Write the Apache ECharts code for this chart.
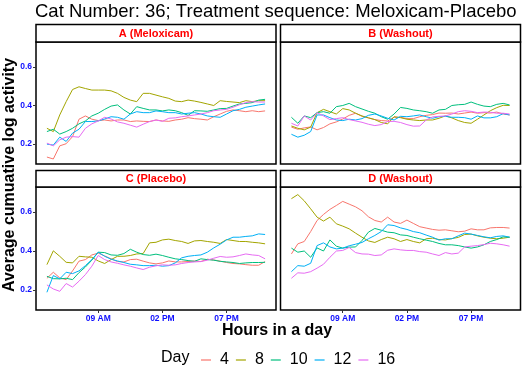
<!DOCTYPE html>
<html><head><meta charset="utf-8">
<script src="https://cdn.jsdelivr.net/npm/echarts@6/dist/echarts.min.js"></script>
<style>html,body{margin:0;padding:0;background:#fff}#c{width:526px;height:372px}</style>
</head><body><div id="c"></div>
<script>
// ---- data ----
const hours = [5,5.5,6,6.5,7,7.5,8,8.5,9,9.5,10,10.5,11,11.5,12,12.5,13,13.5,14,14.5,15,15.5,16,16.5,17,17.5,18,18.5,19,19.5,20,20.5,21,21.5,22];
const days = ['4','8','10','12','16'];
const panelTitles = ['A (Meloxicam)','B (Washout)','C (Placebo)','D (Washout)'];
const xTickValues = [9,14,19];
const xTickLabels = ['09 AM','02 PM','07 PM'];
const yTickValues = [0.2,0.4,0.6];

const A_day4  = [0.133,0.123,0.191,0.202,0.239,0.329,0.346,0.329,0.322,0.325,0.320,0.325,0.325,0.317,0.320,0.318,0.317,0.325,0.320,0.318,0.325,0.329,0.337,0.332,0.329,0.325,0.342,0.356,0.370,0.377,0.373,0.368,0.373,0.368,0.372];
const A_day8  = [0.282,0.265,0.351,0.420,0.483,0.497,0.488,0.480,0.480,0.480,0.476,0.463,0.442,0.428,0.420,0.463,0.463,0.454,0.445,0.437,0.423,0.420,0.428,0.423,0.416,0.408,0.400,0.425,0.421,0.418,0.415,0.425,0.420,0.425,0.425];
const A_day10 = [0.265,0.277,0.252,0.265,0.282,0.305,0.320,0.346,0.360,0.380,0.397,0.403,0.377,0.356,0.394,0.385,0.377,0.377,0.372,0.377,0.373,0.363,0.349,0.373,0.372,0.370,0.377,0.384,0.385,0.397,0.408,0.411,0.415,0.428,0.432];
const A_day12 = [0.200,0.195,0.236,0.214,0.257,0.277,0.317,0.317,0.320,0.330,0.342,0.339,0.329,0.356,0.368,0.363,0.363,0.372,0.368,0.363,0.363,0.356,0.360,0.363,0.356,0.346,0.342,0.339,0.356,0.373,0.380,0.391,0.397,0.403,0.408];
const A_day16 = [0.205,0.191,0.222,0.236,0.239,0.236,0.282,0.305,0.320,0.339,0.330,0.315,0.308,0.298,0.288,0.303,0.317,0.325,0.318,0.334,0.336,0.342,0.346,0.351,0.356,0.363,0.373,0.377,0.380,0.391,0.404,0.415,0.420,0.418,0.418];

const B_day4  = [0.288,0.277,0.284,0.289,0.274,0.286,0.305,0.315,0.330,0.349,0.360,0.344,0.336,0.327,0.322,0.320,0.339,0.339,0.332,0.332,0.342,0.349,0.353,0.361,0.360,0.361,0.356,0.361,0.366,0.360,0.363,0.361,0.366,0.356,0.351];
const B_day8  = [0.294,0.282,0.274,0.288,0.363,0.380,0.368,0.356,0.384,0.377,0.360,0.346,0.336,0.327,0.312,0.305,0.342,0.337,0.329,0.325,0.322,0.325,0.325,0.334,0.346,0.336,0.322,0.312,0.308,0.329,0.351,0.373,0.389,0.401,0.400];
const B_day10 = [0.339,0.308,0.346,0.337,0.363,0.368,0.360,0.394,0.400,0.411,0.394,0.382,0.370,0.360,0.342,0.329,0.356,0.390,0.385,0.377,0.373,0.368,0.360,0.377,0.380,0.400,0.404,0.406,0.418,0.406,0.397,0.394,0.406,0.411,0.403];
const B_day12 = [0.251,0.236,0.246,0.265,0.351,0.351,0.337,0.325,0.322,0.329,0.325,0.332,0.349,0.356,0.346,0.334,0.325,0.344,0.342,0.346,0.351,0.342,0.334,0.342,0.344,0.339,0.339,0.337,0.329,0.346,0.336,0.336,0.342,0.358,0.351];
const B_day16 = [0.308,0.294,0.346,0.325,0.363,0.346,0.327,0.332,0.337,0.327,0.320,0.313,0.303,0.296,0.301,0.317,0.318,0.312,0.301,0.293,0.294,0.325,0.341,0.344,0.346,0.356,0.368,0.373,0.370,0.363,0.366,0.365,0.360,0.360,0.356];

const C_day4  = [0.260,0.291,0.262,0.253,0.298,0.348,0.356,0.380,0.389,0.375,0.360,0.346,0.344,0.356,0.358,0.348,0.339,0.334,0.339,0.349,0.344,0.344,0.346,0.349,0.346,0.358,0.354,0.348,0.341,0.336,0.334,0.330,0.327,0.327,0.346];
const C_day8  = [0.330,0.401,0.373,0.342,0.339,0.373,0.370,0.368,0.349,0.336,0.356,0.373,0.373,0.377,0.385,0.387,0.442,0.445,0.457,0.461,0.454,0.449,0.439,0.452,0.454,0.449,0.445,0.439,0.459,0.454,0.449,0.449,0.445,0.442,0.437];
const C_day10 = [0.270,0.258,0.257,0.260,0.253,0.289,0.318,0.353,0.394,0.392,0.380,0.378,0.387,0.409,0.394,0.382,0.378,0.384,0.377,0.368,0.360,0.356,0.351,0.347,0.360,0.356,0.353,0.347,0.344,0.341,0.336,0.339,0.341,0.341,0.342];
const C_day12 = [0.188,0.274,0.257,0.291,0.284,0.298,0.325,0.356,0.394,0.373,0.358,0.349,0.341,0.332,0.329,0.325,0.325,0.327,0.322,0.325,0.339,0.365,0.373,0.377,0.380,0.394,0.416,0.435,0.457,0.471,0.471,0.475,0.478,0.488,0.485];
const C_day16 = [0.226,0.205,0.193,0.233,0.215,0.245,0.279,0.322,0.377,0.356,0.344,0.337,0.329,0.322,0.313,0.305,0.317,0.324,0.329,0.327,0.329,0.336,0.341,0.344,0.346,0.353,0.363,0.372,0.368,0.370,0.377,0.385,0.380,0.377,0.360];

const D_day4  = [0.385,0.437,0.449,0.500,0.557,0.588,0.614,0.634,0.655,0.641,0.627,0.607,0.576,0.557,0.549,0.574,0.549,0.542,0.559,0.542,0.525,0.518,0.511,0.507,0.509,0.504,0.499,0.502,0.514,0.509,0.509,0.519,0.521,0.521,0.518];
const D_day8  = [0.669,0.690,0.658,0.617,0.574,0.554,0.574,0.540,0.528,0.514,0.492,0.471,0.452,0.444,0.459,0.471,0.463,0.449,0.459,0.449,0.442,0.463,0.466,0.459,0.457,0.464,0.470,0.485,0.487,0.478,0.471,0.466,0.463,0.466,0.471];
const D_day10 = [0.415,0.394,0.400,0.368,0.416,0.400,0.457,0.425,0.415,0.420,0.421,0.454,0.497,0.516,0.507,0.497,0.494,0.483,0.480,0.471,0.463,0.456,0.449,0.439,0.432,0.432,0.428,0.421,0.415,0.421,0.432,0.449,0.459,0.473,0.471];
const D_day12 = [0.294,0.325,0.322,0.337,0.428,0.442,0.421,0.411,0.415,0.427,0.435,0.444,0.463,0.480,0.500,0.535,0.531,0.519,0.511,0.500,0.494,0.482,0.471,0.456,0.463,0.463,0.478,0.492,0.487,0.480,0.473,0.468,0.475,0.478,0.471];
const D_day16 = [0.260,0.288,0.286,0.294,0.312,0.332,0.368,0.400,0.403,0.418,0.392,0.385,0.384,0.377,0.380,0.404,0.411,0.406,0.403,0.403,0.397,0.394,0.385,0.377,0.392,0.385,0.389,0.421,0.425,0.428,0.433,0.440,0.437,0.432,0.425];

const panels = [
  [A_day4, A_day8, A_day10, A_day12, A_day16],
  [B_day4, B_day8, B_day10, B_day12, B_day16],
  [C_day4, C_day8, C_day10, C_day12, C_day16],
  [D_day4, D_day8, D_day10, D_day12, D_day16]
];

// ---- style / layout ----
const colors = ['#F8766D','#A3A500','#00BF7D','#00B0F6','#E76BF3'];
const FONT = 'Liberation Sans, Arial, Helvetica, sans-serif';
const gridPos = [
  {left:36, top:42, width:240, height:122},
  {left:280.5, top:42, width:240, height:122},
  {left:36, top:187, width:240, height:123},
  {left:280.5, top:187, width:240, height:123}
];
const stripPos = [
  {y:24.5, h:17.5}, {y:24.5, h:17.5}, {y:170.5, h:16.5}, {y:170.5, h:16.5}
];

const grids = gridPos.map(g => ({left:g.left, top:g.top, width:g.width, height:g.height,
  show:true, borderColor:'#000', borderWidth:1.5, backgroundColor:'#fff', containLabel:false}));

const xAxes = gridPos.map((g,i) => ({
  type:'value', gridIndex:i, min:4.15, max:22.85,
  axisLine:{show:false}, splitLine:{show:false},
  axisTick:{show:i>=2, length:3, lineStyle:{color:'#333'}, customValues:xTickValues},
  axisLabel:{show:i>=2, customValues:xTickValues, margin:4, color:'#0f0fff', fontWeight:'bold',
    fontSize:8.5, fontFamily:FONT,
    formatter: v => xTickLabels[xTickValues.findIndex(t => Math.abs(t-v)<1e-6)] || ''}
}));
const yAxes = gridPos.map((g,i) => ({
  type:'value', gridIndex:i, min:0.097, max:0.729,
  axisLine:{show:false}, splitLine:{show:false},
  axisTick:{show:i%2===0, length:3, lineStyle:{color:'#333'}, customValues:yTickValues},
  axisLabel:{show:i%2===0, customValues:yTickValues, margin:4, color:'#0f0fff', fontWeight:'bold',
    fontSize:8.5, fontFamily:FONT, formatter: v => v.toFixed(1)}
}));

const series = [];
panels.forEach((p, pi) => {
  p.forEach((vals, di) => {
    series.push({
      type:'line', name:days[di], xAxisIndex:pi, yAxisIndex:pi,
      data: hours.map((h,k) => [h, vals[k]]),
      showSymbol:false, symbol:'none', lineStyle:{width:1, color:colors[di]}, itemStyle:{color:colors[di]},
      silent:true, animation:false
    });
  });
});

const graphics = [];
gridPos.forEach((g,i) => {
  const s = stripPos[i];
  graphics.push({type:'rect', shape:{x:g.left, y:s.y, width:g.width, height:s.h},
    style:{fill:'#fff', stroke:'#000', lineWidth:1.5}, z:10});
  graphics.push({type:'text', x:g.left+g.width/2, y:s.y+s.h/2+0.5,
    style:{text:panelTitles[i], fill:'#ff0000', font:'bold 11px '+FONT, align:'center', verticalAlign:'middle'}, z:11});
});
graphics.push({type:'text', x:35, y:11.5,
  style:{text:'Cat Number: 36; Treatment sequence: Meloxicam-Placebo', fill:'#000', font:'18.5px '+FONT, align:'left', verticalAlign:'middle'}});
graphics.push({type:'text', x:9.5, y:175, rotation:Math.PI/2,
  style:{text:'Average cumuative log activity', fill:'#000', font:'bold 16px '+FONT, align:'center', verticalAlign:'middle'}});
graphics.push({type:'text', x:277, y:331,
  style:{text:'Hours in a day', fill:'#000', font:'bold 16px '+FONT, align:'center', verticalAlign:'middle'}});
graphics.push({type:'text', x:161, y:358,
  style:{text:'Day', fill:'#000', font:'16px '+FONT, align:'left', verticalAlign:'middle'}});

const chart = echarts.init(document.getElementById('c'), null, {renderer:'canvas'});
chart.setOption({
  animation:false,
  backgroundColor:'#fff',
  grid:grids, xAxis:xAxes, yAxis:yAxes, series:series,
  legend:{data:days, left:196, top:347, orient:'horizontal', icon:'rect', itemWidth:10, itemHeight:1.2, itemGap:7,
    textStyle:{fontSize:16, fontFamily:FONT, color:'#000', padding:[0,0,0,4]}, selectedMode:false},
  graphic:graphics
});
</script></body></html>
